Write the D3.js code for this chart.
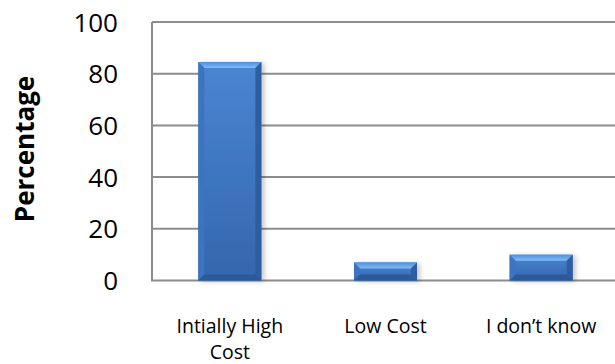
<!DOCTYPE html>
<html>
<head>
<meta charset="utf-8">
<script src="https://cdn.jsdelivr.net/npm/d3@7"></script>
<style>
  html, body { margin: 0; padding: 0; background: #ffffff; }
  svg { display: block; }
</style>
</head>
<body>
<svg id="chart" width="615" height="364"></svg>
<script>
// Survey responses: perceived cost
const categories = ["Intially High Cost", "Low Cost", "I don\u2019t know"];
const values = [84.5, 7, 10];
const yTicks = [0, 20, 40, 60, 80, 100];
const axisTitle = "Percentage";

const W = 615, H = 364;
const margin = { left: 152, top: 22, right: -4, bottom: 83.5 };
const svg = d3.select("#chart");

const x = d3.scaleBand()
  .domain(categories)
  .range([margin.left, W - margin.right])
  .paddingInner(0.595)
  .paddingOuter(0.2975);

const y = d3.scaleLinear()
  .domain([0, 100])
  .range([H - margin.bottom, margin.top]);

const defs = svg.append("defs");

// main face gradient
const face = defs.append("linearGradient").attr("id", "face")
  .attr("x1", 0).attr("y1", 0).attr("x2", 0).attr("y2", 1);
face.append("stop").attr("offset", "0%").attr("stop-color", "#4a86d3");
face.append("stop").attr("offset", "100%").attr("stop-color", "#3466ad");

const topBevel = defs.append("linearGradient").attr("id", "topBevel")
  .attr("x1", 0).attr("y1", 0).attr("x2", 0).attr("y2", 1);
topBevel.append("stop").attr("offset", "0%").attr("stop-color", "#4f8fdc");
topBevel.append("stop").attr("offset", "100%").attr("stop-color", "#80bbf7");

const shadow = defs.append("filter").attr("id", "shadow")
  .attr("x", "-20%").attr("y", "-20%").attr("width", "160%").attr("height", "140%");
shadow.append("feDropShadow")
  .attr("dx", 3).attr("dy", 1).attr("stdDeviation", 2.5)
  .attr("flood-color", "#000").attr("flood-opacity", 0.22);

// gridlines
const grid = svg.append("g");
grid.selectAll("line")
  .data(yTicks.filter(d => d > 0))
  .join("line")
  .attr("x1", margin.left).attr("x2", W)
  .attr("y1", d => y(d)).attr("y2", d => y(d))
  .attr("stroke", "#8c8c8c").attr("stroke-width", 2);

// axis lines
svg.append("line")
  .attr("x1", margin.left).attr("x2", margin.left)
  .attr("y1", y(100)).attr("y2", y(0))
  .attr("stroke", "#8c8c8c").attr("stroke-width", 2);
svg.append("line")
  .attr("x1", margin.left - 1).attr("x2", W)
  .attr("y1", y(0)).attr("y2", y(0))
  .attr("stroke", "#8c8c8c").attr("stroke-width", 2);

// bars with bevelled edges
const b = 6;
const bars = svg.append("g").selectAll("g")
  .data(categories.map((c, i) => ({ c, v: values[i] })))
  .join("g");

bars.append("rect")
  .attr("x", d => x(d.c)).attr("y", d => y(d.v))
  .attr("width", x.bandwidth()).attr("height", d => y(0) - y(d.v))
  .attr("fill", "url(#face)")
  .attr("filter", "url(#shadow)");

function poly(pts) { return "M" + pts.map(p => p.join(",")).join("L") + "Z"; }

// top bevel
bars.append("path")
  .attr("d", d => {
    const x0 = x(d.c), x1 = x0 + x.bandwidth(), y0 = y(d.v);
    const h = Math.min(b, (y(0) - y0) / 2);
    return poly([[x0, y0], [x1, y0], [x1 - h, y0 + h], [x0 + h, y0 + h]]);
  })
  .attr("fill", "url(#topBevel)");

// left bevel
bars.append("path")
  .attr("d", d => {
    const x0 = x(d.c), y0 = y(d.v), y1 = y(0);
    const h = Math.min(b, (y1 - y0) / 2);
    return poly([[x0, y0], [x0 + h, y0 + h], [x0 + h, y1 - h], [x0, y1]]);
  })
  .attr("fill", "#3c74c0");

// right bevel
bars.append("path")
  .attr("d", d => {
    const x1 = x(d.c) + x.bandwidth(), y0 = y(d.v), y1 = y(0);
    const h = Math.min(b, (y1 - y0) / 2);
    return poly([[x1, y0], [x1, y1], [x1 - h, y1 - h], [x1 - h, y0 + h]]);
  })
  .attr("fill", "#2e5e9f");

// bottom bevel
bars.append("path")
  .attr("d", d => {
    const x0 = x(d.c), x1 = x0 + x.bandwidth(), y0 = y(d.v), y1 = y(0);
    const h = Math.min(b, (y1 - y0) / 2);
    return poly([[x0, y1], [x0 + h, y1 - h], [x1 - h, y1 - h], [x1, y1]]);
  })
  .attr("fill", "#2c5a98");

// y tick labels
const yAxis = d3.axisLeft(y).tickValues(yTicks).tickSize(0).tickPadding(0);
const ya = svg.append("g")
  .attr("transform", `translate(118,0)`)
  .call(yAxis);
ya.select(".domain").remove();
ya.selectAll("text")
  .attr("font-family", "'Open Sans', sans-serif")
  .attr("font-size", 26)
  .attr("fill", "#000")
  .attr("dy", "0.35em");

// category labels
const xa = svg.append("g");
const wrapped = {
  "Intially High Cost": ["Intially High", "Cost"]
};
categories.forEach(c => {
  const lines = wrapped[c] || [c];
  const t = xa.append("text")
    .attr("x", x(c) + x.bandwidth() / 2)
    .attr("y", 333)
    .attr("text-anchor", "middle")
    .attr("font-family", "'Open Sans', sans-serif")
    .attr("font-size", 19.5)
    .attr("fill", "#000");
  lines.forEach((l, i) => {
    t.append("tspan")
      .attr("x", x(c) + x.bandwidth() / 2)
      .attr("dy", i === 0 ? 0 : 26)
      .text(l);
  });
});

// axis title
svg.append("text")
  .attr("transform", `translate(34,149) rotate(-90)`)
  .attr("text-anchor", "middle")
  .attr("font-family", "'Open Sans', sans-serif")
  .attr("font-weight", "bold")
  .attr("font-size", 26)
  .attr("fill", "#000")
  .text(axisTitle);
</script>
</body>
</html>
